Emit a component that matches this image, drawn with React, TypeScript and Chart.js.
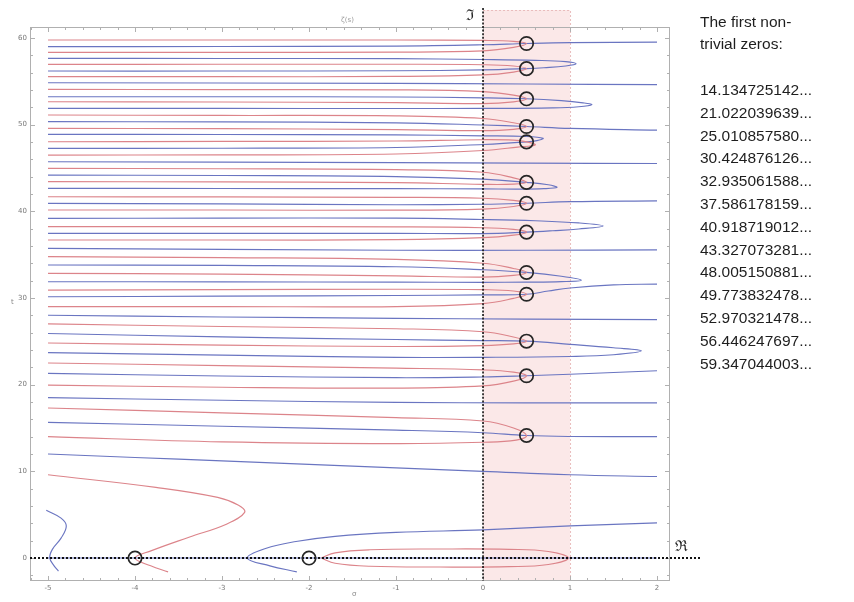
import React, { useEffect, useRef } from "react";
import { Chart, registerables } from "chart.js";
Chart.register(...registerables);

type P = [number, number];

// ---------- data ----------
const zeroHeights = [
  14.134725142, 21.022039639, 25.01085758, 30.424876126, 32.935061588, 37.586178159,
  40.918719012, 43.327073281, 48.005150881, 49.773832478, 52.970321478, 56.446247697, 59.347044003,
];
const zeroLabels = [
  "14.134725142...", "21.022039639...", "25.010857580...", "30.424876126...", "32.935061588...",
  "37.586178159...", "40.918719012...", "43.327073281...", "48.005150881...", "49.773832478...",
  "52.970321478...", "56.446247697...", "59.347044003...",
];
const criticalLine = 0.5;
const trivialZeros: P[] = [[-4, 0], [-2, 0]];
const stripRange: P = [0, 1];

const xTickValues = [-5, -4, -3, -2, -1, 0, 1, 2];
const yTickValues = [0, 10, 20, 30, 40, 50, 60];

// Re ζ = 0 (red) U-shaped contours, each touching a zero
const redLoops: P[][] = [
  [[-5, 17.3], [-3, 16.75], [-1, 16.2], [0, 15.8], [0.35, 15.0], [0.5, 14.13], [0.38, 13.6], [0, 13.35], [-1, 13.2], [-3, 13.4], [-5, 14.0]],
  [[-5, 22.5], [-3, 22.2], [-1, 21.9], [0, 21.7], [0.35, 21.45], [0.5, 21.02], [0.35, 20.4], [0, 19.85], [-1, 19.6], [-3, 19.7], [-5, 19.95]],
  [[-5, 27.0], [-3, 26.7], [-1, 26.45], [0, 26.1], [0.35, 25.5], [0.5, 25.01], [0.35, 24.7], [0, 24.5], [-1, 24.4], [-3, 24.55], [-5, 24.8]],
  [[-5, 30.9], [-3, 30.95], [-1, 31.0], [0, 30.95], [0.35, 30.8], [0.5, 30.42], [0.35, 29.95], [0, 29.35], [-1, 29.0], [-3, 29.0], [-5, 29.0]],
  [[-5, 34.76], [-3, 34.65], [-1, 34.45], [0, 34.0], [0.35, 33.4], [0.5, 32.94], [0.35, 32.6], [0, 32.4], [-1, 32.55], [-3, 32.75], [-5, 32.84]],
  [[-5, 38.22], [-3, 38.22], [-1, 38.2], [0, 38.1], [0.35, 37.9], [0.5, 37.59], [0.35, 37.25], [0, 36.95], [-1, 36.72], [-3, 36.68], [-5, 36.68]],
  [[-5, 41.67], [-3, 41.65], [-1, 41.6], [0, 41.5], [0.35, 41.25], [0.5, 40.92], [0.35, 40.55], [0, 40.25], [-1, 40.12], [-3, 40.14], [-5, 40.14]],
  [[-5, 44.94], [-3, 44.9], [-1, 44.8], [0, 44.5], [0.35, 43.85], [0.5, 43.33], [0.35, 43.12], [0, 43.1], [-1, 43.3], [-3, 43.38], [-5, 43.41]],
  [[-5, 48.02], [-3, 48.05], [-1, 48.1], [0, 48.25], [0.35, 48.2], [0.5, 48.0], [0.6, 47.65], [0.4, 47.4], [0, 47.0], [-1, 46.6], [-3, 46.5], [-5, 46.48]],
  [[-5, 51.1], [-3, 51.05], [-1, 51.0], [0, 50.7], [0.35, 50.2], [0.5, 49.77], [0.35, 49.45], [0, 49.3], [-1, 49.42], [-3, 49.52], [-5, 49.56]],
  [[-5, 54.05], [-3, 54.03], [-1, 54.0], [0, 53.8], [0.35, 53.4], [0.5, 52.97], [0.35, 52.62], [0, 52.42], [-1, 52.52], [-3, 52.6], [-5, 52.63]],
  [[-5, 56.94], [-3, 56.95], [-1, 56.95], [0, 56.9], [0.35, 56.75], [0.5, 56.45], [0.35, 56.05], [0, 55.72], [-1, 55.55], [-3, 55.52], [-5, 55.52]],
  [[-5, 59.75], [-3, 59.75], [-1, 59.75], [0, 59.7], [0.35, 59.6], [0.5, 59.35], [0.35, 58.9], [0, 58.5], [-1, 58.35], [-3, 58.32], [-5, 58.32]],
];

// Re ζ = 0 near the real axis
const redNearAxis: P[][] = [
  [[-3.62, -1.6], [-3.82, -0.9], [-4.0, 0], [-3.81, 0.85], [-3.38, 2.4], [-2.95, 3.9], [-2.74, 5.27], [-2.81, 6.1], [-3.05, 7.0], [-3.76, 8.15], [-5.0, 9.6]],
  [[-1.86, 0], [-1.7, 0.6], [-1.3, 0.95], [-0.5, 1.04], [0.3, 1.0], [0.75, 0.75], [0.98, 0], [0.75, -0.75], [0.3, -1.0], [-0.5, -1.04], [-1.3, -0.95], [-1.7, -0.6], [-1.86, 0]],
];

// Im ζ = 0 (blue) U-shaped contours passing through a zero
const blueLoops: P[][] = [
  [[-5, 25.9], [-3, 25.5], [-1, 25.2], [0, 25.08], [0.5, 25.01], [1.0, 24.65], [1.5, 24.25], [1.82, 23.9], [1.5, 23.45], [1.0, 23.25], [0, 23.15], [-1, 23.15], [-3, 23.4], [-5, 23.7]],
  [[-5, 33.8], [-3, 33.75], [-1, 33.6], [0, 33.25], [0.5, 32.94], [0.9, 32.5], [1.13, 32.05], [0.9, 31.88], [0.5, 31.82], [0, 31.8], [-1, 31.82], [-3, 31.85], [-5, 31.87]],
  [[-5, 39.18], [-3, 39.2], [-1, 39.2], [0, 39.05], [0.6, 38.9], [1.1, 38.65], [1.38, 38.3], [1.1, 37.95], [0.8, 37.75], [0.5, 37.59], [0, 37.42], [-1, 37.45], [-3, 37.45], [-5, 37.45]],
  [[-5, 44.17], [-3, 44.12], [-1, 44.0], [0, 43.7], [0.5, 43.33], [0.75, 43.05], [0.85, 42.75], [0.7, 42.6], [0.4, 42.55], [0, 42.58], [-1, 42.6], [-3, 42.62], [-5, 42.64]],
  [[-5, 48.87], [-3, 48.85], [-1, 48.8], [0, 48.7], [0.5, 48.62], [0.69, 48.4], [0.62, 48.15], [0.5, 48.0], [0, 47.7], [-1, 47.35], [-3, 47.27], [-5, 47.25]],
  [[-5, 53.21], [-3, 53.2], [-1, 53.18], [0, 53.08], [0.5, 52.97], [0.9, 52.75], [1.15, 52.5], [1.25, 52.3], [1.1, 52.05], [0.8, 51.92], [0, 51.86], [-1, 51.85], [-3, 51.86], [-5, 51.86]],
  [[-5, 57.63], [-3, 57.62], [-1, 57.6], [0, 57.5], [0.6, 57.4], [0.95, 57.25], [1.07, 57.0], [0.95, 56.75], [0.7, 56.55], [0.5, 56.45], [0, 56.3], [-1, 56.2], [-3, 56.17], [-5, 56.17]],
];

// Im ζ = 0 lines through a zero that run off to the right
const blueThrough: P[][] = [
  [[-5, 15.65], [-3, 15.2], [-1, 14.75], [0, 14.45], [0.5, 14.13], [1, 14.02], [2, 14.0]],
  [[-5, 21.3], [-3, 21.0], [-1, 20.8], [0, 20.88], [0.5, 21.02], [1, 21.2], [2, 21.6]],
  [[-5, 30.14], [-3, 30.2], [-1, 30.28], [0, 30.35], [0.5, 30.42], [0.75, 30.8], [1, 31.15], [1.5, 31.5], [2, 31.6]],
  [[-5, 40.91], [-3, 40.85], [-1, 40.75], [0, 40.8], [0.5, 40.92], [1, 41.1], [2, 41.2]],
  [[-5, 50.33], [-3, 50.3], [-1, 50.2], [0, 49.95], [0.5, 49.77], [1, 49.55], [2, 49.35]],
  [[-5, 58.98], [-3, 59.0], [-1, 59.05], [0, 59.2], [0.5, 59.35], [1, 59.45], [2, 59.5]],
];

// Im ζ = 0 lines that do not meet a zero
const blueFree: P[][] = [
  [[-5, 54.82], [-1, 54.75], [0.5, 54.68], [2, 54.6]],
  [[-5, 45.71], [-1, 45.6], [0.5, 45.55], [2, 45.5]],
  [[-5, 35.72], [-1, 35.5], [0.5, 35.5], [2, 35.55]],
  [[-5, 28.0], [-3, 27.8], [-1, 27.65], [0.5, 27.55], [2, 27.5]],
  [[-5, 18.5], [-3, 18.2], [-1, 17.95], [0.5, 17.9], [2, 17.9]],
  [[-5, 12.0], [-4, 11.6], [-3, 11.2], [-2, 10.8], [-1, 10.4], [0, 10.0], [1, 9.6], [2, 9.4]],
];

// Im ζ = 0 near the real axis
const blueNearAxis: P[][] = [
  [[-5, 0], [2, 0]],
  [[-5.02, 5.5], [-4.85, 4.6], [-4.79, 3.7], [-4.85, 2.3], [-4.95, 1.0], [-4.98, 0], [-4.93, -0.9], [-4.88, -1.5]],
  [[-2.14, -1.6], [-2.45, -0.9], [-2.71, 0], [-2.5, 1.1], [-2.15, 1.9], [-1.7, 2.5], [-1.0, 2.95], [0, 3.25], [1, 3.7], [2, 4.05]],
];

// ---------- styling ----------
const RED = "rgb(220,132,138)";
const BLUE = "rgb(106,117,193)";
const X_MIN = -5.207;
const X_MAX = 2.149;
const Y_MIN = -2.65;
const Y_MAX = 61.25;

const toXY = (pts: P[]) => pts.map(([x, y]) => ({ x, y }));

const curveDs = (pts: P[], color: string) => ({
  data: toXY(pts),
  showLine: true,
  borderColor: color,
  borderWidth: 1.15,
  pointRadius: 0,
  pointHoverRadius: 0,
  tension: 0.4,
  fill: false,
  order: 2,
});

const framePlugin = {
  id: "mathFrame",
  beforeDatasetsDraw(chart: any) {
    const { ctx, chartArea: a, scales } = chart;
    const xs = scales.x;
    const ys = scales.y;
    ctx.save();
    // critical strip
    const x0 = xs.getPixelForValue(stripRange[0]);
    const x1 = xs.getPixelForValue(stripRange[1]);
    const bandTop = a.top - 17;
    ctx.fillStyle = "#fbe8e8";
    ctx.fillRect(x0, bandTop, x1 - x0, a.bottom - bandTop);
    ctx.strokeStyle = "#e9bcbc";
    ctx.lineWidth = 1;
    ctx.setLineDash([2, 2]);
    ctx.beginPath();
    ctx.moveTo(x0, bandTop + 0.5);
    ctx.lineTo(x1 + 0.5, bandTop + 0.5);
    ctx.lineTo(x1 + 0.5, a.bottom);
    ctx.stroke();
    ctx.setLineDash([]);
    // frame
    ctx.strokeStyle = "#b0b0b0";
    ctx.lineWidth = 1;
    ctx.strokeRect(a.left + 0.5, a.top + 0.5, a.right - a.left - 1, a.bottom - a.top - 1);
    // ticks on four sides
    ctx.beginPath();
    for (let i = -26; i <= 10; i++) {
      const v = i * 0.2;
      const px = Math.round(xs.getPixelForValue(v)) + 0.5;
      if (px <= a.left || px >= a.right) continue;
      const len = i % 5 === 0 ? 5 : 3;
      ctx.moveTo(px, a.bottom);
      ctx.lineTo(px, a.bottom - len);
      ctx.moveTo(px, a.top);
      ctx.lineTo(px, a.top + len);
    }
    for (let i = -1; i <= 30; i++) {
      const v = i * 2;
      const py = Math.round(ys.getPixelForValue(v)) + 0.5;
      if (py <= a.top || py >= a.bottom) continue;
      const len = i % 5 === 0 ? 5 : 3;
      ctx.moveTo(a.left, py);
      ctx.lineTo(a.left + len, py);
      ctx.moveTo(a.right, py);
      ctx.lineTo(a.right - len, py);
    }
    ctx.stroke();
    ctx.restore();
  },
  beforeDatasetDraw(chart: any, args: any) {
    const ds = chart.data.datasets[args.index];
    if (ds.label !== "zeros") return;
    const { ctx, chartArea: a, scales } = chart;
    const px = scales.x.getPixelForValue(0);
    const py = scales.y.getPixelForValue(0);
    ctx.save();
    ctx.strokeStyle = "#111";
    ctx.lineWidth = 1.6;
    ctx.setLineDash([2, 1.6]);
    ctx.beginPath();
    ctx.moveTo(px, a.top - 19);
    ctx.lineTo(px, a.bottom);
    ctx.stroke();
    ctx.lineWidth = 2;
    ctx.setLineDash([2, 2]);
    ctx.beginPath();
    ctx.moveTo(a.left, py);
    ctx.lineTo(a.right + 30, py);
    ctx.stroke();
    ctx.restore();
  },
};

export default function App() {
  const ref = useRef<HTMLCanvasElement>(null);

  useEffect(() => {
    if (!ref.current) return;
    const datasets: any[] = [];
    redLoops.forEach((c) => datasets.push(curveDs(c, RED)));
    redNearAxis.forEach((c) => datasets.push(curveDs(c, RED)));
    blueLoops.forEach((c) => datasets.push(curveDs(c, BLUE)));
    blueThrough.forEach((c) => datasets.push(curveDs(c, BLUE)));
    blueFree.forEach((c) => datasets.push(curveDs(c, BLUE)));
    blueNearAxis.forEach((c) => datasets.push(curveDs(c, BLUE)));
    datasets.push({
      label: "zeros",
      data: [...zeroHeights.map((y) => ({ x: criticalLine, y })), ...toXY(trivialZeros)],
      showLine: false,
      pointStyle: "circle",
      pointRadius: 6.7,
      pointHoverRadius: 6.7,
      pointBorderColor: "#262626",
      pointBorderWidth: 1.7,
      pointBackgroundColor: "rgba(0,0,0,0)",
      order: 0,
    });

    const tickFont = { size: 7, family: "DejaVu Sans" };
    const chart = new Chart(ref.current, {
      type: "scatter",
      data: { datasets },
      plugins: [framePlugin],
      options: {
        animation: false,
        responsive: false,
        events: [],
        layout: { padding: { left: 12, top: 27, right: 184, bottom: 5 } },
        plugins: { legend: { display: false }, tooltip: { enabled: false } },
        scales: {
          x: {
            type: "linear",
            min: X_MIN,
            max: X_MAX,
            afterBuildTicks: (s: any) => {
              s.ticks = xTickValues.map((v) => ({ value: v }));
            },
            afterFit: (s: any) => {
              s.height = 16;
            },
            ticks: { font: tickFont, color: "#777", padding: 3, autoSkip: false, maxRotation: 0 },
            grid: { display: false, drawTicks: false },
            border: { display: false },
          },
          y: {
            type: "linear",
            min: Y_MIN,
            max: Y_MAX,
            afterBuildTicks: (s: any) => {
              s.ticks = yTickValues.map((v) => ({ value: v }));
            },
            afterFit: (s: any) => {
              s.width = 18;
            },
            ticks: { font: tickFont, color: "#777", padding: 3, autoSkip: false },
            grid: { display: false, drawTicks: false },
            border: { display: false },
          },
        },
      },
    } as any);
    return () => chart.destroy();
  }, []);

  const textLines = ["The first non-", "trivial zeros:", "", ...zeroLabels];

  return (
    <div style={{ position: "absolute", left: 0, top: 0, width: 854, height: 602, background: "#fff", overflow: "hidden" }}>
      <canvas ref={ref} width={854} height={602} style={{ position: "absolute", left: 0, top: 0 }} />
      <div
        style={{
          position: "absolute",
          left: 700,
          top: 10.6,
          fontFamily: "'Liberation Sans', Arial, sans-serif",
          fontSize: 15.5,
          lineHeight: "22.8px",
          color: "#1e1e1e",
          whiteSpace: "pre",
        }}
      >
        {textLines.map((t, i) => (
          <div key={i} style={{ height: 22.8 }}>{t}</div>
        ))}
      </div>
      <div style={{ position: "absolute", left: 466, top: 4, fontFamily: "'DejaVu Serif', serif", fontSize: 15, color: "#222" }}>ℑ</div>
      <div style={{ position: "absolute", left: 675, top: 535, fontFamily: "'DejaVu Serif', serif", fontSize: 15, color: "#222" }}>ℜ</div>
      <div style={{ position: "absolute", left: 341, top: 16, fontFamily: "'DejaVu Sans', sans-serif", fontSize: 7, color: "#999" }}>ζ(s)</div>
      <div style={{ position: "absolute", left: 352, top: 590, fontFamily: "'DejaVu Sans', sans-serif", fontSize: 7, color: "#888" }}>σ</div>
      <div style={{ position: "absolute", left: 11, top: 298, fontFamily: "'DejaVu Sans', sans-serif", fontSize: 7, color: "#888" }}>t</div>
    </div>
  );
}
